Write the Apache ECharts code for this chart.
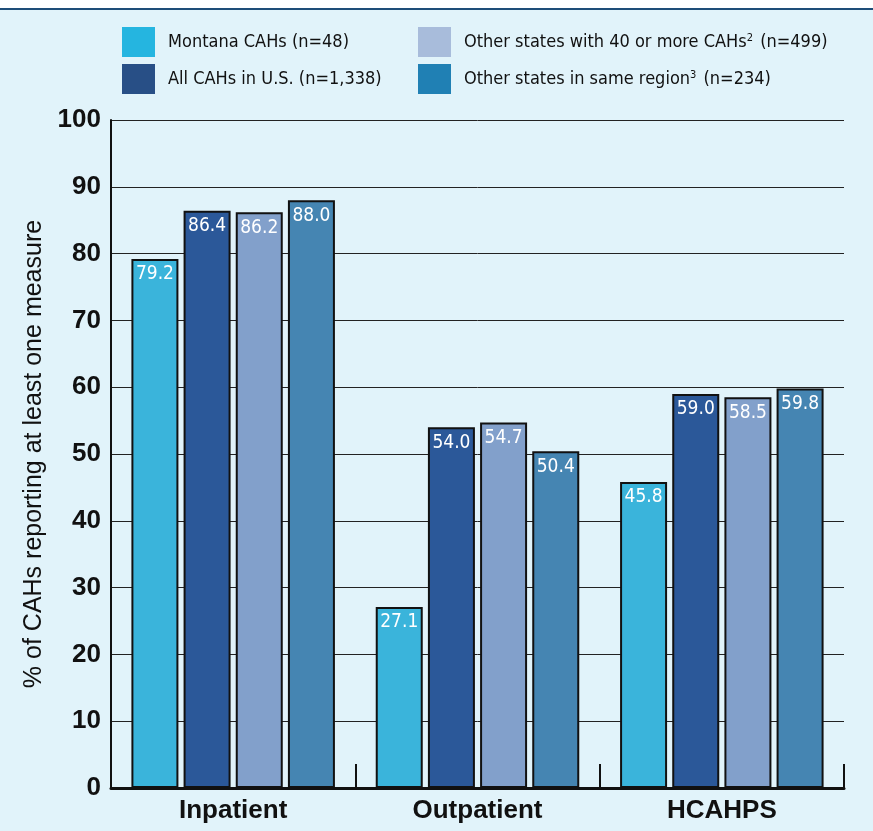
<!DOCTYPE html>
<html><head><meta charset="utf-8">
<script src="https://cdn.jsdelivr.net/npm/echarts@6/dist/echarts.min.js"></script>
<style>html,body{margin:0;padding:0;background:#e1f3fa;}#c{width:873px;height:831px;}</style>
</head><body><div id="c"></div>
<script>
const categories = ['Inpatient', 'Outpatient', 'HCAHPS'];
const seriesNames = ['Montana CAHs (n=48)', 'All CAHs in U.S. (n=1,338)', 'Other states with 40 or more CAHs2 (n=499)', 'Other states in same region3 (n=234)'];
const montana = [79.2, 27.1, 45.8];
const allCAHs = [86.4, 54.0, 59.0];
const otherStates40 = [86.2, 54.7, 58.5];
const sameRegion = [88.0, 50.4, 59.8];
const yTicks = [0, 10, 20, 30, 40, 50, 60, 70, 80, 90, 100];

const barColors = ['#3ab4db', '#2b5899', '#82a0cb', '#4585b2'];
const legendColors = ['#25b5e0', '#284f86', '#a8bcdb', '#2080b4'];
const values = [montana, allCAHs, otherStates40, sameRegion];
const condensed = "'Liberation Sans Narrow','DejaVu Sans Condensed','Roboto Condensed',sans-serif";

const chart = echarts.init(document.getElementById('c'));
const legendFormatter = function (name) {
  const m = name.match(/^(.*?)(\d)( \(n=.*\))$/);
  if (m) return '{g|}{t|' + m[1] + '}{s|' + m[2] + '}{t|' + m[3] + '}';
  return '{g|}{t|' + name + '}';
};
const legendText = {
  fontFamily: condensed, fontSize: 18, color: '#111',
  rich: {
    g: { width: 8 },
    t: { fontFamily: condensed, fontSize: 18, color: '#111' },
    s: { fontFamily: condensed, fontSize: 11, color: '#111', verticalAlign: 'top', padding: [0, 2, 8, 0] }
  }
};
chart.setOption({
  backgroundColor: '#e1f3fa',
  animation: false,
  graphic: [
    { type: 'rect', shape: { x: 0, y: 0, width: 873, height: 8 }, style: { fill: '#ffffff' }, silent: true },
    { type: 'rect', shape: { x: 0, y: 8, width: 873, height: 2 }, style: { fill: '#1e4e79' }, silent: true }
  ],
  legend: [
    {
      orient: 'vertical', left: 122, top: 27, padding: 0, itemWidth: 33, itemHeight: 30, itemGap: 7, icon: 'rect',
      data: [
        { name: seriesNames[0], itemStyle: { color: legendColors[0], borderWidth: 0 } },
        { name: seriesNames[1], itemStyle: { color: legendColors[1], borderWidth: 0 } }
      ],
      formatter: legendFormatter, textStyle: legendText, selectedMode: false
    },
    {
      orient: 'vertical', left: 418, top: 27, padding: 0, itemWidth: 33, itemHeight: 30, itemGap: 7, icon: 'rect',
      data: [
        { name: seriesNames[2], itemStyle: { color: legendColors[2], borderWidth: 0 } },
        { name: seriesNames[3], itemStyle: { color: legendColors[3], borderWidth: 0 } }
      ],
      formatter: legendFormatter, textStyle: legendText, selectedMode: false
    }
  ],
  grid: { left: 111, right: 29, top: 120, bottom: 43 },
  xAxis: {
    type: 'category', data: categories,
    axisLine: { lineStyle: { color: '#111', width: 3 } },
    axisTick: { show: true, inside: true, length: 24, lineStyle: { color: '#111', width: 2 } },
    axisLabel: { color: '#111', fontFamily: 'Liberation Sans, Arial, sans-serif', fontWeight: 'bold', fontSize: 26, margin: 10 }
  },
  yAxis: {
    type: 'value', min: yTicks[0], max: yTicks[yTicks.length - 1], interval: 10,
    name: '% of CAHs reporting at least one measure', nameLocation: 'middle', nameGap: 55,
    nameTextStyle: { color: '#111', fontFamily: 'Liberation Sans, Arial, sans-serif', fontSize: 25 },
    axisLine: { show: true, lineStyle: { color: '#111', width: 2 } },
    axisTick: { show: false },
    axisLabel: { color: '#111', fontFamily: 'Liberation Sans, Arial, sans-serif', fontWeight: 'bold', fontSize: 26, margin: 10 },
    splitLine: { lineStyle: { color: '#222', width: 1 } }
  },
  series: values.map((v, i) => ({
    name: seriesNames[i], type: 'bar', data: v,
    barWidth: 47, barGap: '11%',
    itemStyle: { color: barColors[i], borderColor: '#111', borderWidth: 2 },
    label: {
      show: true, position: 'insideTop', distance: 6, color: '#fff',
      fontFamily: condensed, fontSize: 19,
      formatter: p => p.value.toFixed(1)
    }
  }))
});
</script></body></html>
